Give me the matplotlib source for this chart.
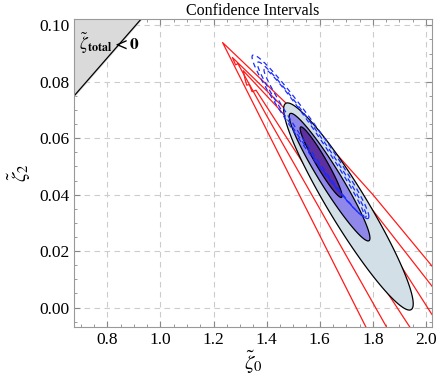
import numpy as np
import matplotlib
matplotlib.use('Agg')
import matplotlib.pyplot as plt

plt.rcParams['font.family'] = ['Liberation Serif', 'DejaVu Serif']
plt.rcParams['mathtext.fontset'] = 'stix'

# filled confidence regions (1, 2, 3 sigma): centre, half extents, correlation
fill_x0 = [1.708, 1.637, 1.605]
fill_dx = [0.244, 0.152, 0.079]
fill_y0 = [0.0358, 0.0462, 0.0515]
fill_dy = [0.0367, 0.0226, 0.0125]
fill_rho = [-0.94, -0.955, -0.955]
fill_colors = ['#d3dfe7', '#8f88ea', '#5e309f']

# blue dashed contours
blue_x0 = [1.565, 1.570, 1.578]
blue_dx = [0.220, 0.205, 0.188]
blue_y0 = [0.0605, 0.0595, 0.0585]
blue_dy = [0.0290, 0.0275, 0.0260]
blue_rho = [-0.975, -0.98, -0.985]

# red contours (wedges running out of the plot)
red_outer_x = [1.86, 1.50, 1.30, 1.234, 1.40, 1.60, 1.80, 2.02, 2.10]
red_outer_y = [-0.023, 0.0442, 0.0816, 0.0939, 0.0790, 0.0610, 0.0400, 0.0150, 0.0050]
red_mid_x = [1.93, 1.60, 1.40, 1.30, 1.292, 1.283, 1.271, 1.42, 1.62, 1.82, 2.02, 2.10]
red_mid_y = [-0.020, 0.0350, 0.0680, 0.0850, 0.0864, 0.0860, 0.0886, 0.0750, 0.0560, 0.0320, 0.0079, -0.002]
red_in_x = [2.03, 1.70, 1.50, 1.36, 1.345, 1.335, 1.325, 1.318, 1.312, 1.45, 1.65, 1.85, 2.02, 2.10]
red_in_y = [-0.020, 0.0275, 0.0566, 0.0770, 0.0765, 0.0790, 0.0788, 0.0812, 0.0839, 0.0700, 0.0480, 0.0230, -0.0021, -0.012]

# zeta_total < 0 boundary
bound_x = [0.675, 0.93]
bound_y = [0.075, 0.1025]

xticks = [0.8, 1.0, 1.2, 1.4, 1.6, 1.8, 2.0]
yticks = [0.00, 0.02, 0.04, 0.06, 0.08, 0.10]


def ellipse(x0, dx, y0, dy, rho):
    t = np.linspace(0, 2 * np.pi, 300)
    phi = np.arccos(rho)
    return x0 + dx * np.cos(t), y0 + dy * np.cos(t + phi)


fig = plt.figure(figsize=(4.36, 3.82), dpi=100)
ax = fig.add_axes([0.170, 0.144, 0.821, 0.806])

# red contours underneath
for rx, ry in [(red_outer_x, red_outer_y), (red_mid_x, red_mid_y), (red_in_x, red_in_y)]:
    ax.plot(rx, ry, color='#ff1a1a', lw=0.9, zorder=2)

for i in range(3):
    ex, ey = ellipse(fill_x0[i], fill_dx[i], fill_y0[i], fill_dy[i], fill_rho[i])
    ax.fill(ex, ey, facecolor=fill_colors[i], edgecolor='black', lw=0.9, zorder=3)

for i in range(3):
    ex, ey = ellipse(blue_x0[i], blue_dx[i], blue_y0[i], blue_dy[i], blue_rho[i])
    ax.plot(ex, ey, color='#1a2cff', lw=0.9, ls=(0, (4, 3)), zorder=4)

# excluded region
ax.fill_between(bound_x, bound_y, 0.1025, color='#dadada', zorder=1)
ax.plot(bound_x, bound_y, color='black', lw=0.9, zorder=2)
ax.text(0.695, 0.0935, r'$\tilde{\zeta}_{\mathbf{total}}\mathbf{<0}$', fontsize=12.5,
        ha='left', va='center', zorder=5)

ax.set_xlim(0.675, 2.023)
ax.set_ylim(-0.0069, 0.1022)
ax.set_xticks(xticks)
ax.set_xticklabels(['%.1f' % v for v in xticks])
ax.set_yticks(yticks)
ax.set_yticklabels(['%.2f' % v for v in yticks])
ax.set_xticks(np.arange(0.70, 2.03, 0.05), minor=True)
ax.set_yticks(np.arange(-0.005, 0.102, 0.005), minor=True)
ax.tick_params(which='both', direction='in', top=True, right=True, colors='#888888',
               labelcolor='black', labelsize=12.5)
ax.tick_params(which='major', length=4)
ax.tick_params(which='minor', length=2)
for s in ax.spines.values():
    s.set_color('#999999')
ax.grid(True, which='major', ls=(0, (5, 4)), color='#cccccc', lw=0.8, zorder=0)
ax.set_axisbelow(True)

ax.set_title('Confidence Intervals', fontsize=11.5, pad=1)
ax.set_xlabel(r'$\tilde{\zeta}_0$', fontsize=15, labelpad=1)
ax.set_ylabel(r'$\tilde{\zeta}_2$', fontsize=15)

fig.savefig('out.png', dpi=100)
